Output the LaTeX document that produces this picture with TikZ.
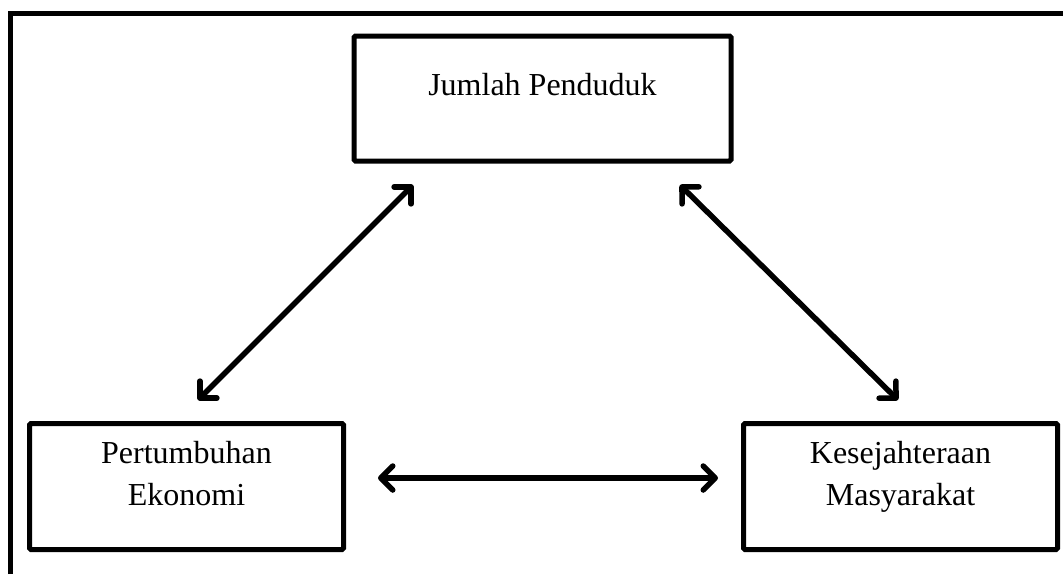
\documentclass[tikz,border=0pt]{standalone}
\usepackage{fontspec}
\setmainfont{Liberation Serif}
\usetikzlibrary{arrows.meta,calc}
\tikzset{
  box/.style={draw, line width=5pt, rounded corners=1.5pt, inner sep=0pt},
  lbl/.style={font=\fontsize{32}{42.5}\selectfont, align=center, inner sep=0pt, anchor=base},
  tipb/.tip={Straight Barb[length=12pt,width=24pt,line width=5.5pt,round]},
  rel/.style={draw=black, line width=5.5pt, line cap=round, tipb-tipb},
  frame/.style={line width=5pt, line join=miter}
}
\begin{document}
\begin{tikzpicture}[x=1pt,y=-1pt]
\useasboundingbox (0,0) rectangle (1063,574);
\draw[frame] (10,574) -- (10,13) -- (1063,13);
% boxes
\node[box, minimum width=377pt, minimum height=125pt] (jp) at (542.5,98.5) {};
\node[lbl] (jpt) at (542.5,95) {Jumlah Penduduk};
\node[box, minimum width=314pt, minimum height=126pt] (pe) at (186.5,486.5) {};
\node[lbl] (pet) at (186.5,505.5) {Pertumbuhan\\Ekonomi};
\node[box, minimum width=314pt, minimum height=126pt] (ks) at (900.5,486.5) {};
\node[lbl] (kst) at (900.5,505.5) {Kesejahteraan\\Masyarakat};
% arrows
\draw[rel] ($(pe.north west)+(171,-21)$) -- ($(jp.south west)+(61.5,21.5)$);
\draw[rel] ($(jp.south east)+(-53.5,21.5)$) -- ($(ks.north west)+(157,-21)$);
\draw[rel] ($(pe.east)+(32,-8.5)$) -- ($(ks.west)+(-23,-8.5)$);
\end{tikzpicture}
\end{document}
